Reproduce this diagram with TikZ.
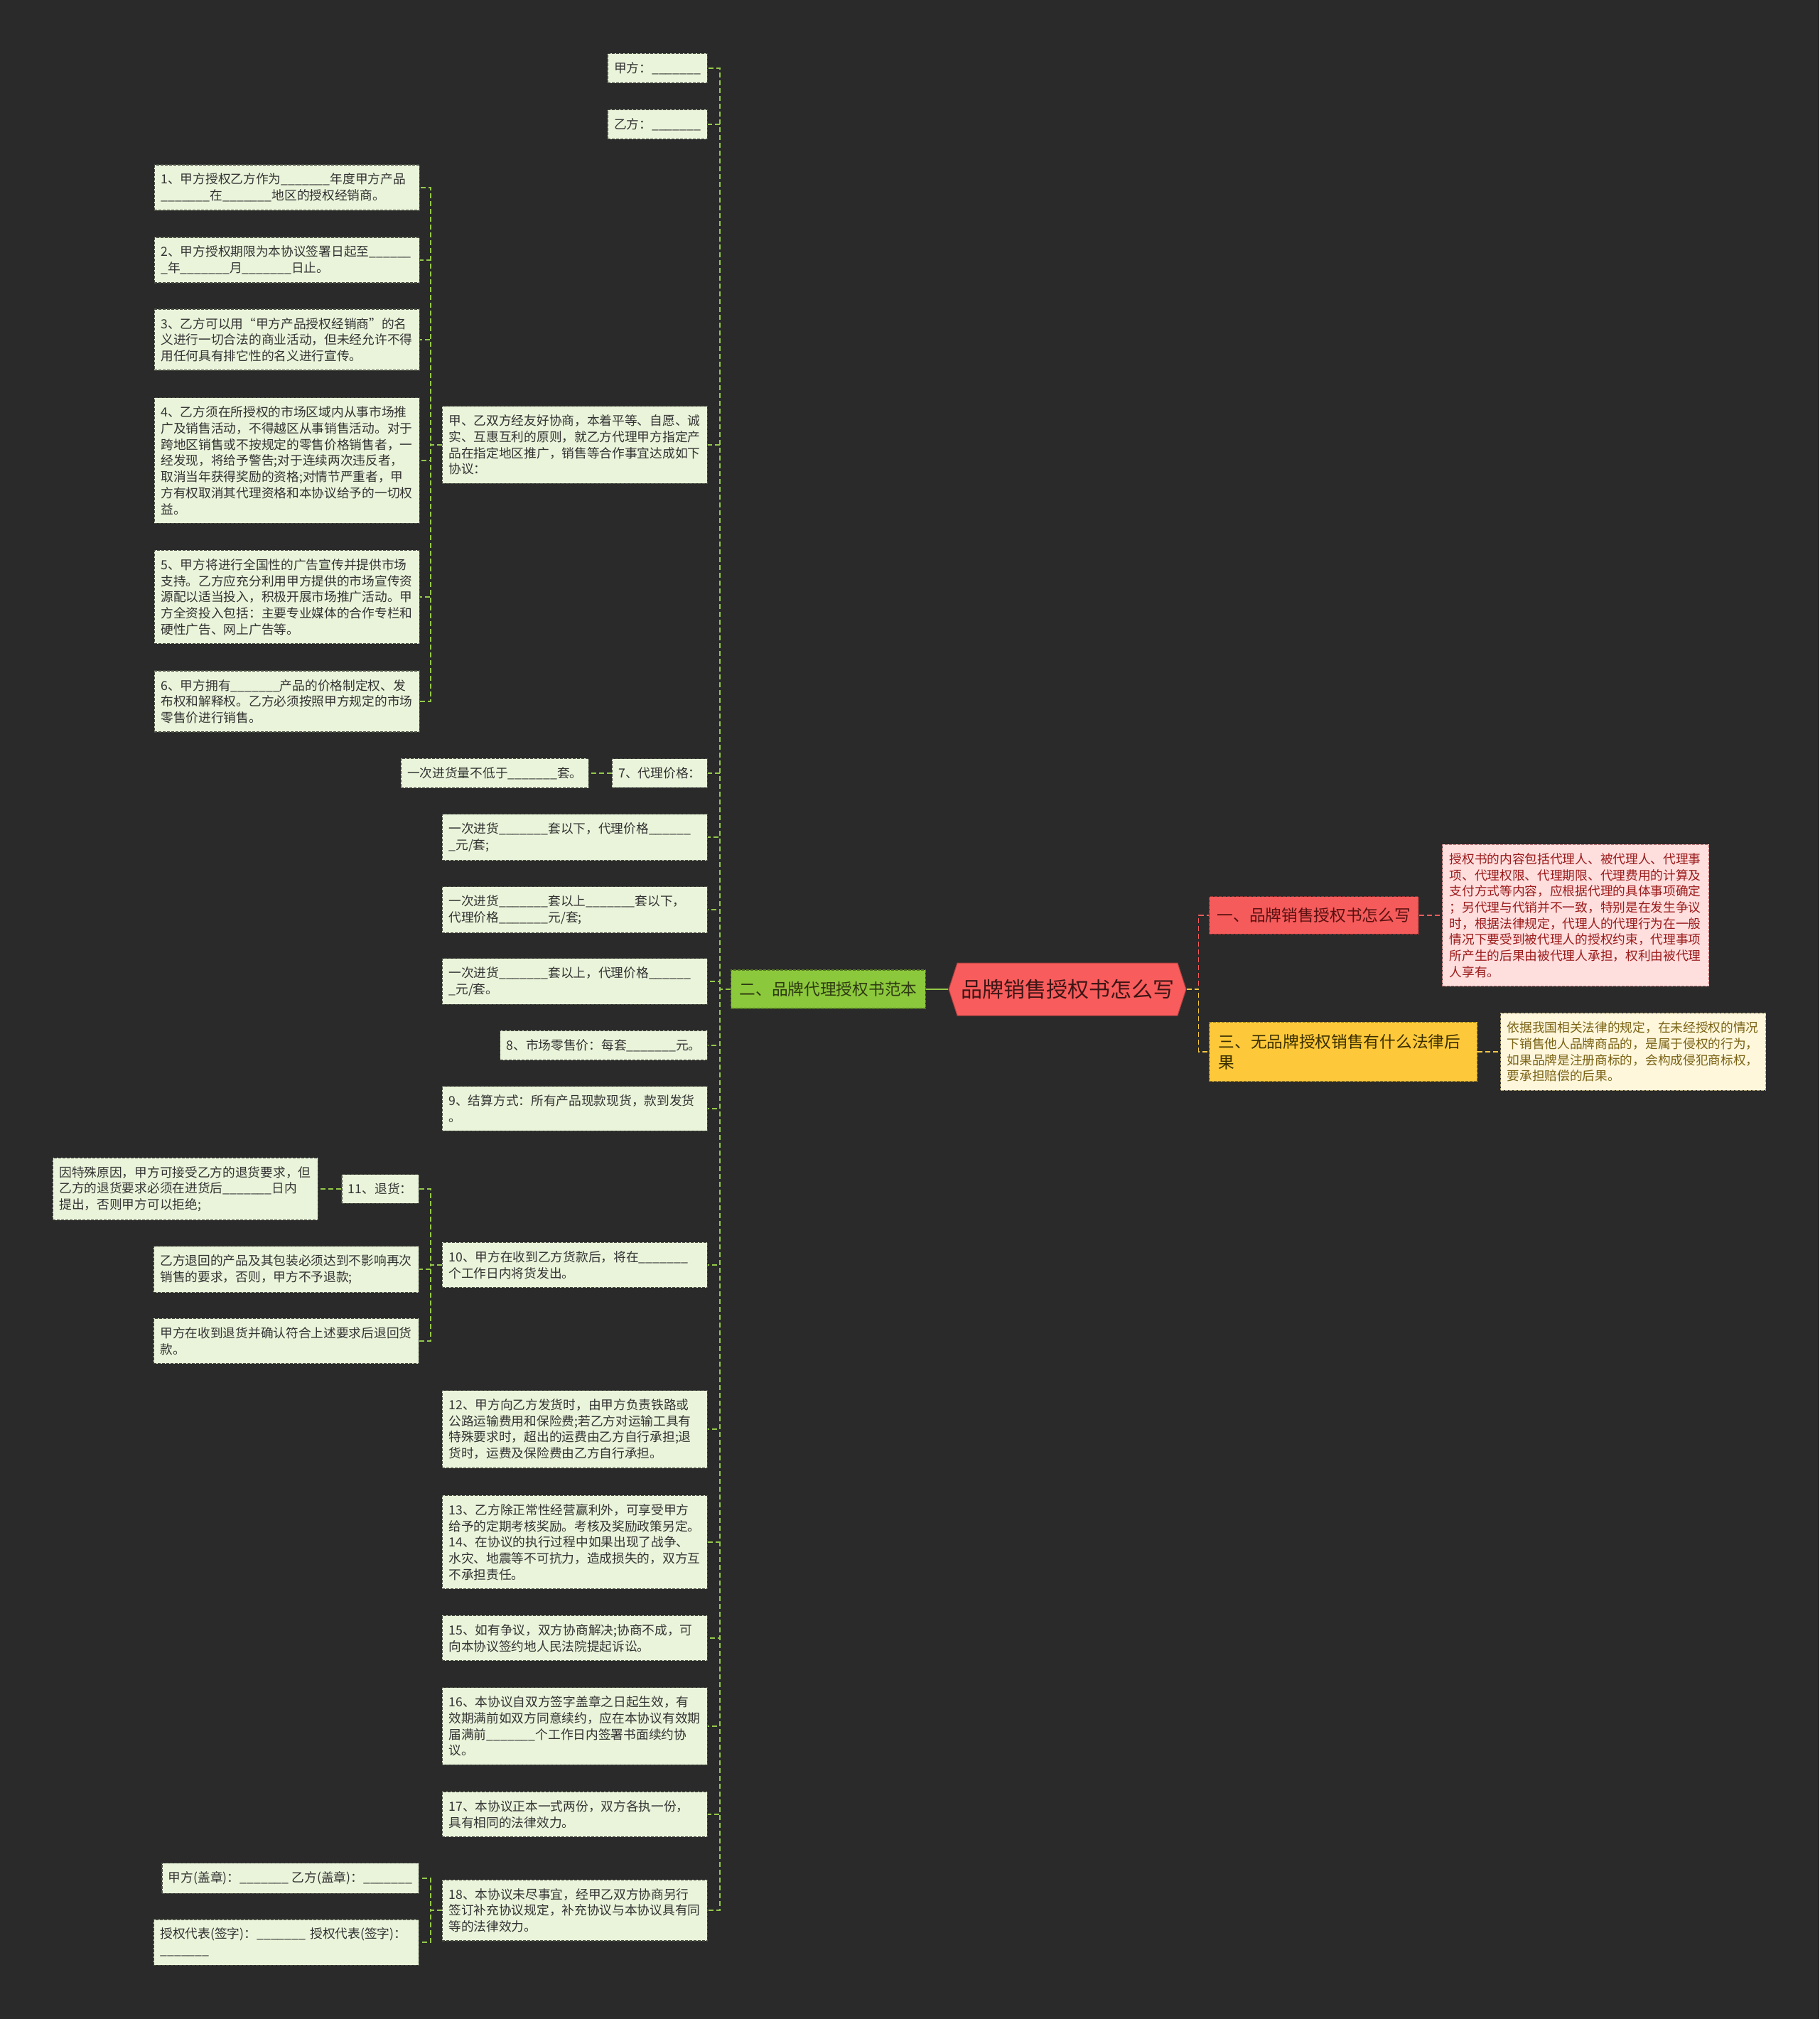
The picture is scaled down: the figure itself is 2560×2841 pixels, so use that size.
\documentclass[tikz,border=0pt]{standalone}
\usepackage{fontspec}
\setmainfont{Noto Sans CJK SC}
\usetikzlibrary{shapes.symbols}

\definecolor{bg}{HTML}{2A2A2A}
\definecolor{leaffill}{HTML}{EAF4DA}
\definecolor{leafline}{HTML}{4A4F44}
\definecolor{leaftext}{HTML}{333333}
\definecolor{linkgreen}{HTML}{94C84A}
\definecolor{greenfill}{HTML}{8CC83C}
\definecolor{greentext}{HTML}{2E3B12}
\definecolor{rootfill}{HTML}{F95C5C}
\definecolor{roottext}{HTML}{3D1515}
\definecolor{redfill}{HTML}{F55B5B}
\definecolor{redtext}{HTML}{5A1010}
\definecolor{linkred}{HTML}{F25C5C}
\definecolor{pinkfill}{HTML}{FFDEDE}
\definecolor{pinktext}{HTML}{9B1B1B}
\definecolor{yellowfill}{HTML}{FDC93A}
\definecolor{yellowtext}{HTML}{3B2F00}
\definecolor{linkyellow}{HTML}{F5C842}
\definecolor{creamfill}{HTML}{FFF7DC}
\definecolor{creamtext}{HTML}{7A6315}

\newcommand{\kong}{\_\_\_\_\_\_\_}

\tikzset{
  box/.style={line width=1.2pt, dash pattern=on 4pt off 2pt, align=left,
    font=\fontsize{17.7pt}{22.7pt}\selectfont, inner xsep=9pt, inner ysep=12pt},
  leaf/.style={box, draw=leafline, fill=leaffill, text=leaftext},
  wide/.style={text width=355pt},
  branch/.style={line width=1.2pt, dash pattern=on 4pt off 2pt, align=left,
    font=\fontsize{22.7pt}{29.3pt}\selectfont, inner xsep=12pt, inner ysep=16.5pt},
  link/.style={draw=linkgreen, line width=1.6pt, dash pattern=on 7pt off 4pt},
}

\begin{document}
\begin{tikzpicture}[x=1pt, y=-1pt]
    \fill[bg] (0,0) rectangle (2560,2841);
    \useasboundingbox (0,0) rectangle (2560,2841);

    % centre and main branches
    \node[shape=signal, signal to=west and east, signal pointer angle=144,
      fill=rootfill, draw=rootfill!70!black, line width=1pt, text=roottext,
      font=\fontsize{30pt}{36pt}\selectfont, minimum width=334pt, minimum height=74pt,
      inner xsep=4pt] (root) at (1502,1392) {品牌销售授权书怎么写};
    \node[branch, draw=greenfill!60!black, fill=greenfill, text=greentext, anchor=east] (fanben) at (1303,1392) {二、品牌代理授权书范本};
    \node[branch, draw=redfill!60!black, fill=redfill, text=redtext, anchor=west, inner xsep=11pt, inner ysep=15.6pt] (zenme) at (1701,1288) {一、品牌销售授权书怎么写};
    \node[branch, draw=yellowfill!60!black, fill=yellowfill, text=yellowtext, anchor=west, inner xsep=13pt, text width=351pt] (houguo) at (1701,1480) {三、无品牌授权销售有什么法律后\\果};

    \node[box, draw=pinktext!60, fill=pinkfill, text=pinktext, wide, anchor=west, inner xsep=10pt] (neirong) at (2029,1288) {授权书的内容包括代理人、被代理人、代理事\\项、代理权限、代理期限、代理费用的计算及\\支付方式等内容，应根据代理的具体事项确定\\；另代理与代销并不一致，特别是在发生争议\\时，根据法律规定，代理人的代理行为在一般\\情况下要受到被代理人的授权约束，代理事项\\所产生的后果由被代理人承担，权利由被代理\\人享有。};
    \node[box, draw=creamtext!60, fill=creamfill, text=creamtext, wide, anchor=west] (yiju) at (2111,1480) {依据我国相关法律的规定，在未经授权的情况\\下销售他人品牌商品的，是属于侵权的行为，\\如果品牌是注册商标的，会构成侵犯商标权，\\要承担赔偿的后果。};

    % sample contract items
    \node[leaf, anchor=east] (jia) at (996,96) {甲方：\kong};
    \node[leaf, anchor=east] (yi) at (996,175) {乙方：\kong};
    \node[leaf, wide, anchor=east] (xieshang) at (996,626) {甲、乙双方经友好协商，本着平等、自愿、诚\\实、互惠互利的原则，就乙方代理甲方指定产\\品在指定地区推广，销售等合作事宜达成如下\\协议：};
    \node[leaf, wide, anchor=east] (t1) at (591,264) {1、甲方授权乙方作为\kong 年度甲方产品\\\kong 在\kong 地区的授权经销商。};
    \node[leaf, wide, anchor=east] (t2) at (591,366) {2、甲方授权期限为本协议签署日起至\_\_\_\_\_\_\\\_年\kong 月\kong 日止。};
    \node[leaf, wide, anchor=east] (t3) at (591,478) {3、乙方可以用“甲方产品授权经销商”的名\\义进行一切合法的商业活动，但未经允许不得\\用任何具有排它性的名义进行宣传。};
    \node[leaf, wide, anchor=east] (t4) at (591,648) {4、乙方须在所授权的市场区域内从事市场推\\广及销售活动，不得越区从事销售活动。对于\\跨地区销售或不按规定的零售价格销售者，一\\经发现，将给予警告;对于连续两次违反者，\\取消当年获得奖励的资格;对情节严重者，甲\\方有权取消其代理资格和本协议给予的一切权\\益。};
    \node[leaf, wide, anchor=east] (t5) at (591,840) {5、甲方将进行全国性的广告宣传并提供市场\\支持。乙方应充分利用甲方提供的市场宣传资\\源配以适当投入，积极开展市场推广活动。甲\\方全资投入包括：主要专业媒体的合作专栏和\\硬性广告、网上广告等。};
    \node[leaf, wide, anchor=east] (t6) at (591,987) {6、甲方拥有\kong 产品的价格制定权、发\\布权和解释权。乙方必须按照甲方规定的市场\\零售价进行销售。};

    \node[leaf, anchor=east] (t7) at (996,1088) {7、代理价格：};
    \node[leaf, anchor=east] (t7a) at (829,1088) {一次进货量不低于\kong 套。};
    \node[leaf, wide, anchor=east] (t7b) at (996,1178) {一次进货\kong 套以下，代理价格\_\_\_\_\_\_\\\_元/套;};
    \node[leaf, wide, anchor=east] (t7c) at (996,1280) {一次进货\kong 套以上\kong 套以下，\\代理价格\kong 元/套;};
    \node[leaf, wide, anchor=east] (t7d) at (996,1381) {一次进货\kong 套以上，代理价格\_\_\_\_\_\_\\\_元/套。};
    \node[leaf, anchor=east] (t8) at (996,1471) {8、市场零售价：每套\kong 元。};
    \node[leaf, wide, anchor=east] (t9) at (996,1560) {9、结算方式：所有产品现款现货，款到发货\\。};
    \node[leaf, wide, anchor=east] (t10) at (996,1780) {10、甲方在收到乙方货款后，将在\kong\\个工作日内将货发出。};
    \node[leaf, anchor=east] (t11) at (590,1673) {11、退货：};
    \node[leaf, wide, anchor=east] (t11a) at (448,1673) {因特殊原因，甲方可接受乙方的退货要求，但\\乙方的退货要求必须在进货后\kong 日内\\提出，否则甲方可以拒绝;};
    \node[leaf, wide, anchor=east] (t11b) at (590,1786) {乙方退回的产品及其包装必须达到不影响再次\\销售的要求，否则，甲方不予退款;};
    \node[leaf, wide, anchor=east] (t11c) at (590,1887) {甲方在收到退货并确认符合上述要求后退回货\\款。};
    \node[leaf, wide, anchor=east] (t12) at (996,2011) {12、甲方向乙方发货时，由甲方负责铁路或\\公路运输费用和保险费;若乙方对运输工具有\\特殊要求时，超出的运费由乙方自行承担;退\\货时，运费及保险费由乙方自行承担。};
    \node[leaf, wide, anchor=east] (t13) at (996,2170) {13、乙方除正常性经营赢利外，可享受甲方\\给予的定期考核奖励。考核及奖励政策另定。\\14、在协议的执行过程中如果出现了战争、\\水灾、地震等不可抗力，造成损失的，双方互\\不承担责任。};
    \node[leaf, wide, anchor=east] (t15) at (996,2305) {15、如有争议，双方协商解决;协商不成，可\\向本协议签约地人民法院提起诉讼。};
    \node[leaf, wide, anchor=east] (t16) at (996,2429) {16、本协议自双方签字盖章之日起生效，有\\效期满前如双方同意续约，应在本协议有效期\\届满前\kong 个工作日内签署书面续约协\\议。};
    \node[leaf, wide, anchor=east] (t17) at (996,2553) {17、本协议正本一式两份，双方各执一份，\\具有相同的法律效力。};
    \node[leaf, wide, anchor=east] (t18) at (996,2688) {18、本协议未尽事宜，经甲乙双方协商另行\\签订补充协议规定，补充协议与本协议具有同\\等的法律效力。};
    \node[leaf, anchor=east] (gaizhang) at (590,2643) {甲方(盖章)：\kong~乙方(盖章)：\kong};
    \node[leaf, wide, anchor=east] (qianzi) at (590,2733) {授权代表(签字)：\kong~授权代表(签字)：\\\kong};

    % connectors
    \draw[link, dash pattern=] (root.west) -- (fanben.east);
    \draw[linkred, line width=1.6pt, dash pattern=on 7pt off 4pt] (root.east) -- ++(17,0) |- (zenme.west);
    \draw[linkyellow, line width=1.6pt, dash pattern=on 7pt off 4pt] (root.east) -- ++(17,0) |- (houguo.west);
    \draw[linkred, line width=1.6pt, dash pattern=on 7pt off 4pt] (zenme.east) -- (neirong.west);
    \draw[linkyellow, line width=1.6pt, dash pattern=on 7pt off 4pt] (houguo.east) -- (yiju.west);

    \foreach \n in {jia,yi,xieshang,t7,t7b,t7c,t7d,t8,t9,t10,t12,t13,t15,t16,t17,t18}
      \draw[link] (fanben.west) -- ++(-15,0) |- (\n.east);
    \foreach \n in {t1,t2,t3,t4,t5,t6}
      \draw[link] (xieshang.west) -- ++(-16,0) |- (\n.east);
    \foreach \n in {t11,t11b,t11c}
      \draw[link] (t10.west) -- ++(-16,0) |- (\n.east);
    \foreach \n in {gaizhang,qianzi}
      \draw[link] (t18.west) -- ++(-16,0) |- (\n.east);
    \draw[link] (t7.west) -- (t7a.east);
    \draw[link] (t11.west) -- (t11a.east);
  \end{tikzpicture}
\end{document}
